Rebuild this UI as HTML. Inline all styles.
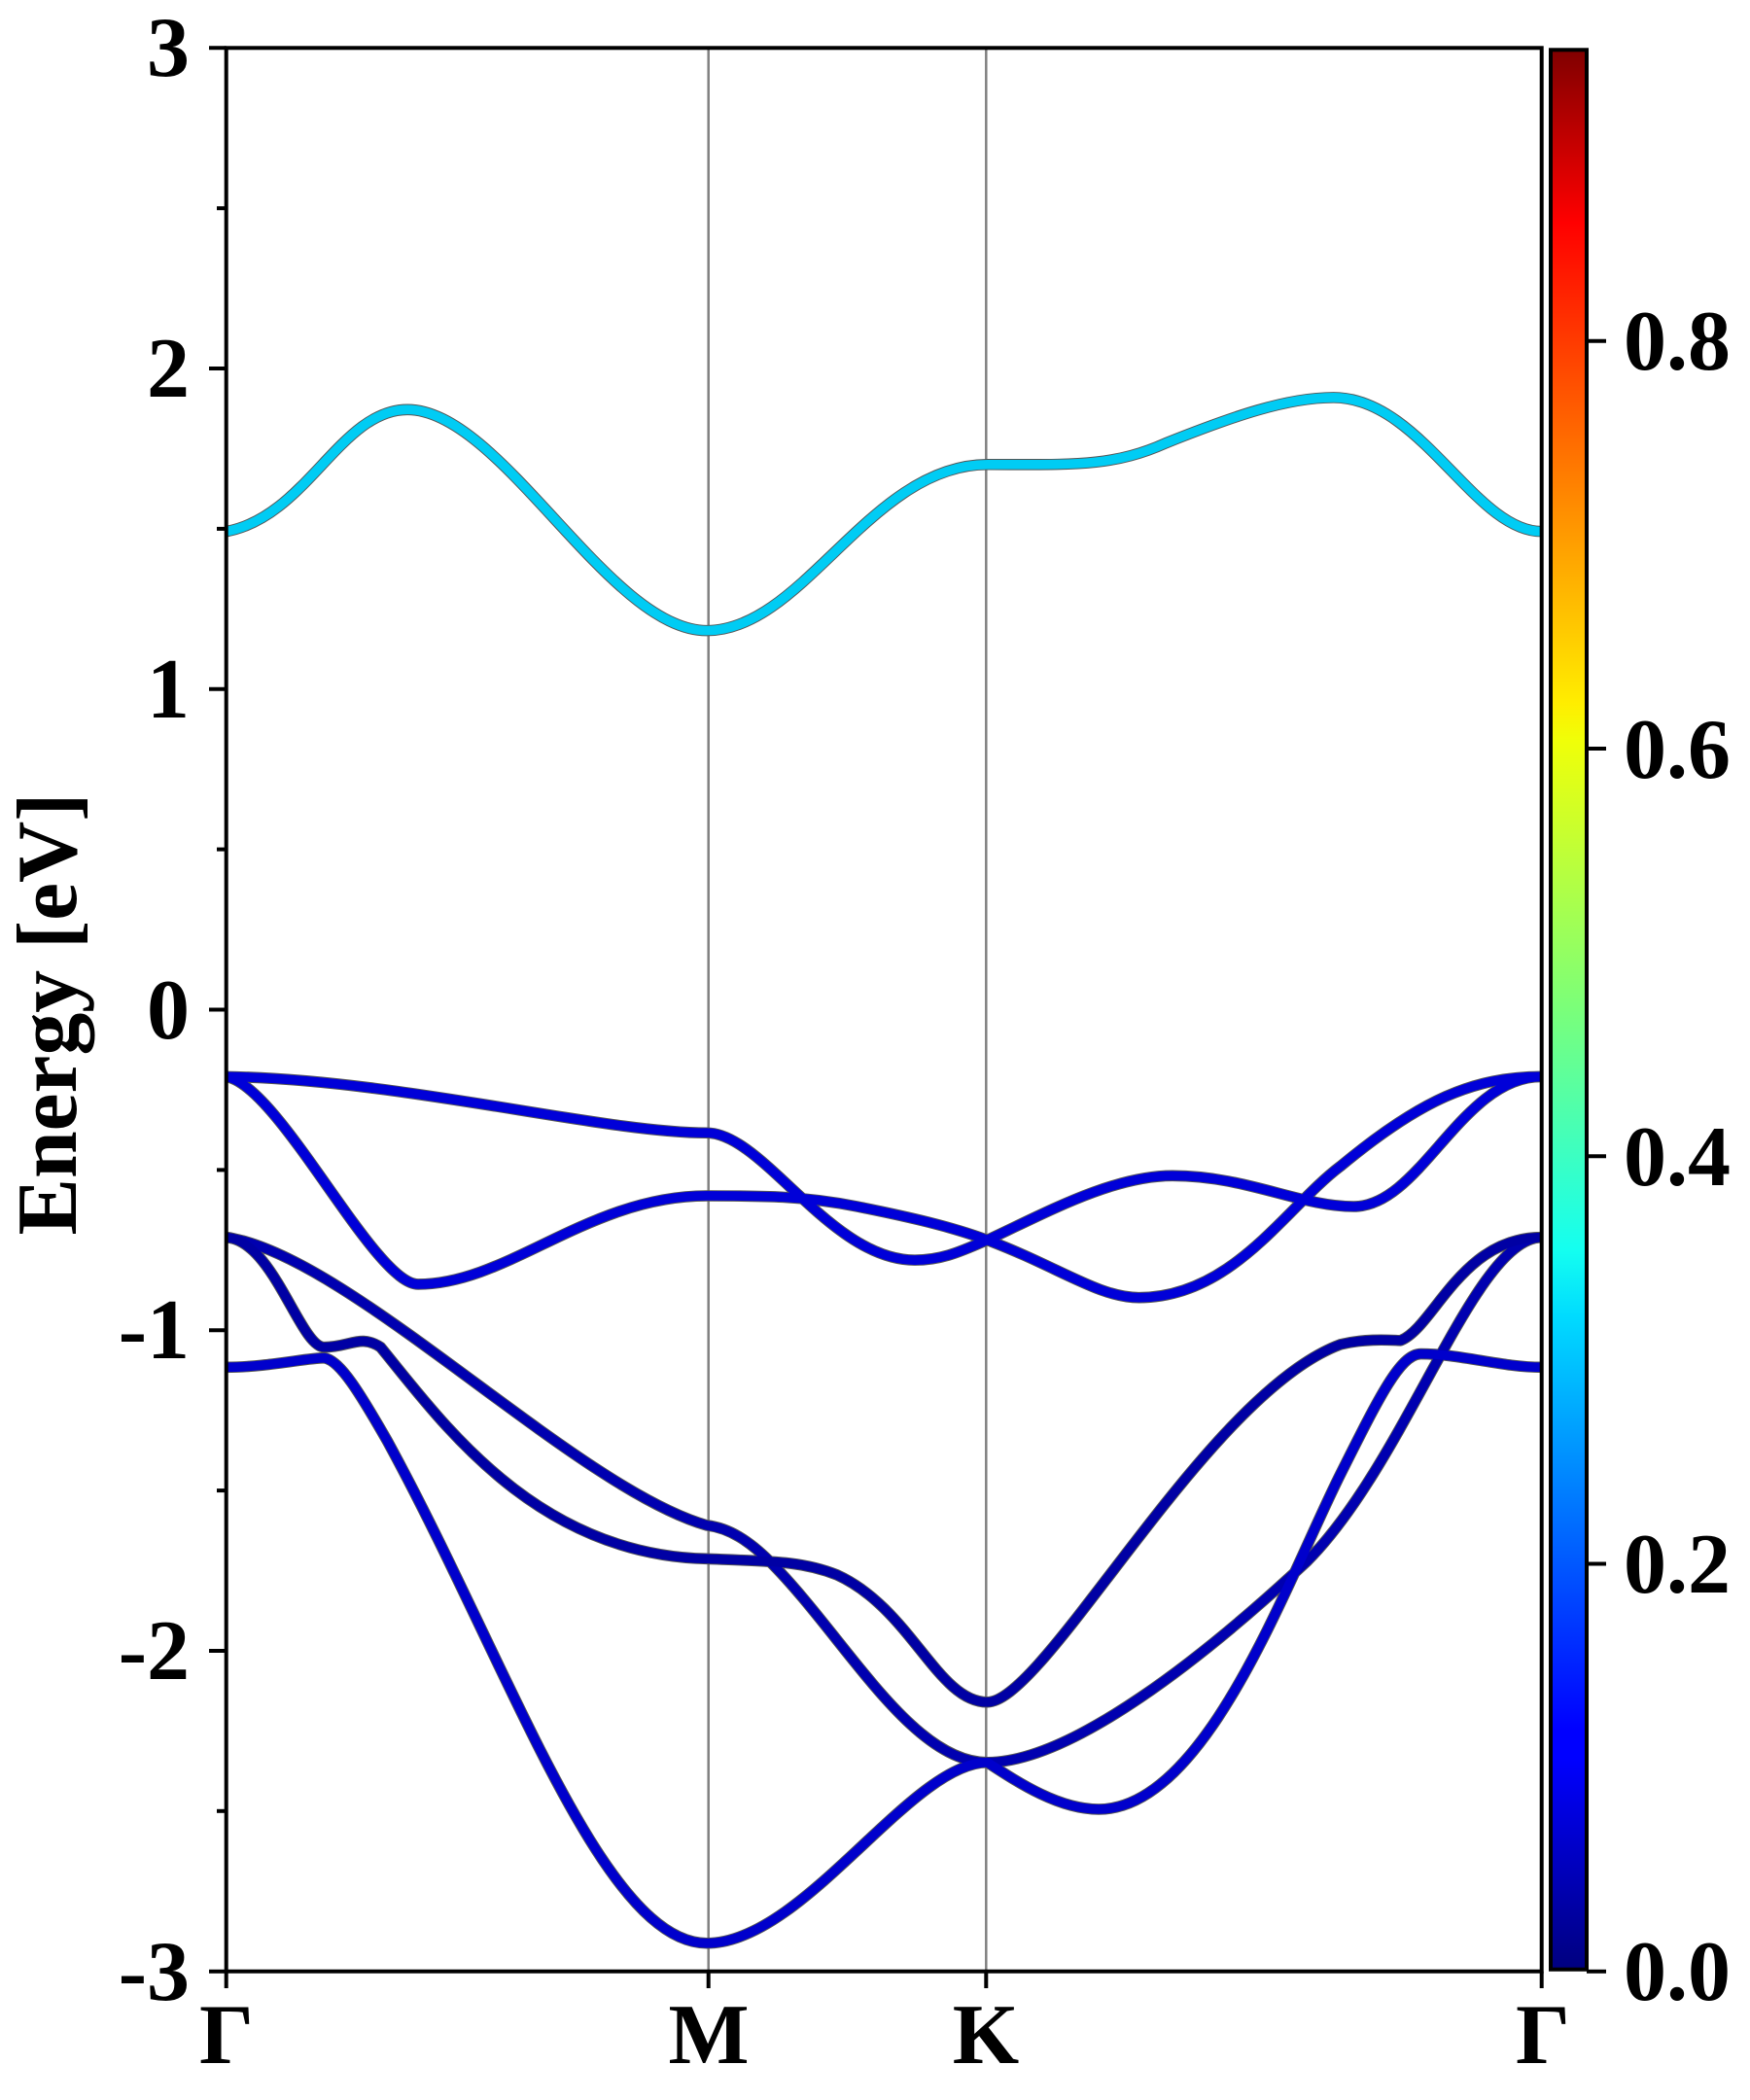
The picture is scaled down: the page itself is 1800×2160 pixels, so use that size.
<!DOCTYPE html>
<html><head><meta charset="utf-8"><style>html,body{margin:0;padding:0;background:#fff}svg{display:block}text{font-family:"Liberation Serif","Times New Roman",Times,serif;font-weight:bold}</style></head>
<body>
<svg width="1800" height="2160" viewBox="0 0 1800 2160" xmlns="http://www.w3.org/2000/svg">
<defs>
<linearGradient id="jet" x1="0" y1="1" x2="0" y2="0">
<stop offset="0" stop-color="#00007f"/>
<stop offset="0.11" stop-color="#0000ff"/>
<stop offset="0.125" stop-color="#0000ff"/>
<stop offset="0.34" stop-color="#00dbff"/>
<stop offset="0.375" stop-color="#14fff0"/>
<stop offset="0.5" stop-color="#7aff7a"/>
<stop offset="0.64" stop-color="#f0ff08"/>
<stop offset="0.66" stop-color="#ffed00"/>
<stop offset="0.89" stop-color="#ff1300"/>
<stop offset="0.91" stop-color="#ff0000"/>
<stop offset="1" stop-color="#800000"/>
</linearGradient>
</defs>
<line x1="728.7" y1="49" x2="728.7" y2="2028" stroke="#808080" stroke-width="2.5"/>
<line x1="1014.3" y1="49" x2="1014.3" y2="2028" stroke="#808080" stroke-width="2.5"/>
<g transform="matrix(1.3806 0 0 1.3777 -2.0 1.08)" fill="none" stroke-linecap="butt" stroke-linejoin="round">
<g stroke="#555" stroke-width="8.4">
<path d="M170,396 C230,385 255,305 305,305 C375,305 455,470 528,470 C600,470 650,346 737,346 C800,346 830,348 870,330 C920,310 960,296 995,296 C1060,296 1100,396 1150,396"/>
<path d="M170,803 C300,805 450,845 528,845 C570,845 620,940 683,940 C705,940 720,932 737,925 C790,945 820,968 850,968 C920,968 960,900 1000,870 C1060,820 1100,803 1150,803"/>
<path d="M170,803 C210,810 280,958 313,958 C380,958 440,892 528,892 C570,892 600,892 640,900 C680,908 710,915 737,925 C780,905 830,877 875,877 C930,877 970,900 1010,900 C1060,900 1090,803 1150,803"/>
<path d="M170,923 C260,935 430,1110 528,1138 C545,1140 560,1150 575,1165 C630,1220 680,1315 737,1315 C800,1315 900,1235 975,1165 C1050,1090 1100,923 1150,923"/>
<path d="M170,923 C205,925 225,1005 243,1005 C262,1005 270,995 285,1005 C330,1060 400,1160 528,1163 C580,1165 600,1165 625,1175 C680,1200 700,1270 737,1270 C780,1270 900,1040 1000,1003 C1020,998 1040,1000 1045,1000 C1070,990 1090,923 1150,923"/>
<path d="M170,1020 C200,1020 230,1013 243,1013 C255,1015 270,1040 290,1075 C380,1240 450,1450 528,1450 C600,1450 680,1315 737,1315 C760,1330 790,1350 820,1350 C900,1350 960,1180 1000,1100 C1030,1040 1045,1010 1060,1010 C1090,1010 1120,1020 1150,1020"/>
</g>
<g stroke-width="7">
<path stroke="#00ccf4" d="M170,396 C230,385 255,305 305,305 C375,305 455,470 528,470 C600,470 650,346 737,346 C800,346 830,348 870,330 C920,310 960,296 995,296 C1060,296 1100,396 1150,396"/>
<path stroke="#0000d8" d="M170,803 C300,805 450,845 528,845 C570,845 620,940 683,940 C705,940 720,932 737,925 C790,945 820,968 850,968 C920,968 960,900 1000,870 C1060,820 1100,803 1150,803"/>
<path stroke="#0000d8" d="M170,803 C210,810 280,958 313,958 C380,958 440,892 528,892 C570,892 600,892 640,900 C680,908 710,915 737,925 C780,905 830,877 875,877 C930,877 970,900 1010,900 C1060,900 1090,803 1150,803"/>
<path stroke="#0000b0" d="M170,923 C260,935 430,1110 528,1138 C545,1140 560,1150 575,1165 C630,1220 680,1315 737,1315 C800,1315 900,1235 975,1165 C1050,1090 1100,923 1150,923"/>
<path stroke="#0000a4" d="M170,923 C205,925 225,1005 243,1005 C262,1005 270,995 285,1005 C330,1060 400,1160 528,1163 C580,1165 600,1165 625,1175 C680,1200 700,1270 737,1270 C780,1270 900,1040 1000,1003 C1020,998 1040,1000 1045,1000 C1070,990 1090,923 1150,923"/>
<path stroke="#0000cc" d="M170,1020 C200,1020 230,1013 243,1013 C255,1015 270,1040 290,1075 C380,1240 450,1450 528,1450 C600,1450 680,1315 737,1315 C760,1330 790,1350 820,1350 C900,1350 960,1180 1000,1100 C1030,1040 1045,1010 1060,1010 C1090,1010 1120,1020 1150,1020"/>
</g>
</g>
<rect x="232.7" y="49.3" width="1353" height="1978.4" fill="none" stroke="#000" stroke-width="4"/>
<g stroke="#000" stroke-width="4">
<line x1="215" y1="49.3" x2="232.7" y2="49.3"/>
<line x1="215" y1="379" x2="232.7" y2="379"/>
<line x1="215" y1="708.7" x2="232.7" y2="708.7"/>
<line x1="215" y1="1038.5" x2="232.7" y2="1038.5"/>
<line x1="215" y1="1368.2" x2="232.7" y2="1368.2"/>
<line x1="215" y1="1698" x2="232.7" y2="1698"/>
<line x1="215" y1="2027.7" x2="232.7" y2="2027.7"/>
<line x1="223" y1="214.2" x2="232.7" y2="214.2"/>
<line x1="223" y1="543.9" x2="232.7" y2="543.9"/>
<line x1="223" y1="873.6" x2="232.7" y2="873.6"/>
<line x1="223" y1="1203.4" x2="232.7" y2="1203.4"/>
<line x1="223" y1="1533.1" x2="232.7" y2="1533.1"/>
<line x1="223" y1="1862.8" x2="232.7" y2="1862.8"/>
<line x1="232.7" y1="2027.7" x2="232.7" y2="2045"/>
<line x1="728.7" y1="2027.7" x2="728.7" y2="2045"/>
<line x1="1014.3" y1="2027.7" x2="1014.3" y2="2045"/>
<line x1="1585.7" y1="2027.7" x2="1585.7" y2="2045"/>
</g>
<g font-size="88" text-anchor="end" fill="#000">
<text x="195" y="78">3</text>
<text x="195" y="408">2</text>
<text x="195" y="738">1</text>
<text x="195" y="1068">0</text>
<text x="195" y="1397">-1</text>
<text x="195" y="1727">-2</text>
<text x="195" y="2057">-3</text>
</g>
<g font-size="88" text-anchor="middle" fill="#000">
<text x="233" y="2122">Γ</text>
<text x="729" y="2122">M</text>
<text x="1014" y="2122">K</text>
<text x="1587" y="2122">Γ</text>
</g>
<text transform="translate(78,1043) rotate(-90)" font-size="88" text-anchor="middle" textLength="455" lengthAdjust="spacingAndGlyphs">Energy [eV]</text>
<rect x="1595" y="51.3" width="37" height="1974.4" fill="url(#jet)" stroke="#000" stroke-width="4"/>
<g stroke="#000" stroke-width="4">
<line x1="1632" y1="2027.7" x2="1652" y2="2027.7"/>
<line x1="1632" y1="1608.5" x2="1652" y2="1608.5"/>
<line x1="1632" y1="1189.3" x2="1652" y2="1189.3"/>
<line x1="1632" y1="770" x2="1652" y2="770"/>
<line x1="1632" y1="350.7" x2="1652" y2="350.7"/>
</g>
<g font-size="88" fill="#000">
<text x="1670" y="2057">0.0</text>
<text x="1670" y="1638">0.2</text>
<text x="1670" y="1219">0.4</text>
<text x="1670" y="800">0.6</text>
<text x="1670" y="380">0.8</text>
</g>
</svg>
</body></html>
